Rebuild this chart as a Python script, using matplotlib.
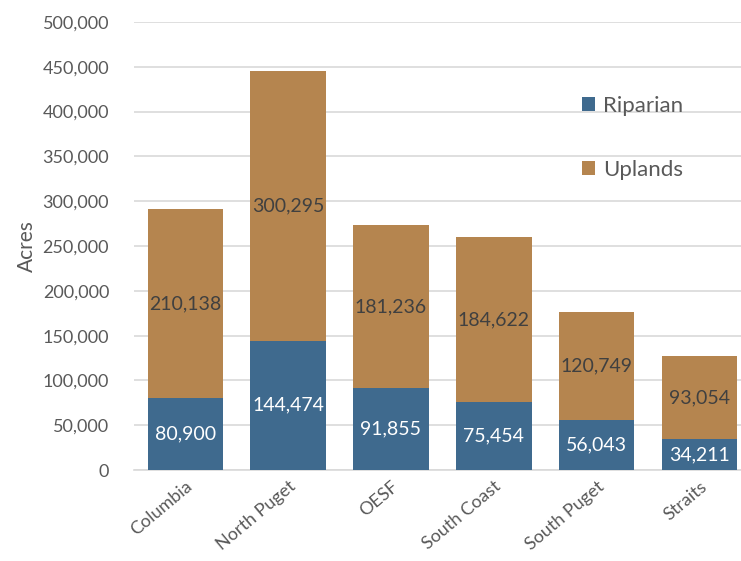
import matplotlib.pyplot as plt
import numpy as np

regions = ["Columbia", "North Puget", "OESF", "South Coast", "South Puget", "Straits"]
riparian = [80900, 144474, 91855, 75454, 56043, 34211]
uplands = [210138, 300295, 181236, 184622, 120749, 93054]

BLUE = "#3F6A8E"
BROWN = "#B5854F"

plt.rcParams["font.family"] = ["Lato", "DejaVu Sans"]

fig = plt.figure(figsize=(7.41, 5.61), dpi=100)
ax = fig.add_axes([0.181, 0.162, 0.819, 0.799])

x = np.arange(len(regions))
rip = np.array(riparian)
upl = np.array(uplands)

ax.bar(x, rip, width=0.73, color=BLUE, label="Riparian", zorder=3)
ax.bar(x, upl, width=0.73, bottom=rip, color=BROWN, label="Uplands", zorder=3)

# segment totals printed in the middle of each stack piece
for xi, r, u in zip(x, rip, upl):
    ax.text(xi, r / 2, f"{r:,}", ha="center", va="center", color="white",
            fontsize=14, zorder=4)
    ax.text(xi, r + u / 2, f"{u:,}", ha="center", va="center", color="#404040",
            fontsize=14, zorder=4)

ax.set_ylim(0, 500000)
ax.set_xlim(-0.495, 5.4)
ax.set_yticks(np.arange(0, 500001, 50000))
ax.yaxis.set_major_formatter(plt.FuncFormatter(lambda v, p: f"{int(v):,}"))
ax.grid(axis="y", color="#D9D9D9", linewidth=1.2, zorder=0)
for s in ["top", "right", "left"]:
    ax.spines[s].set_visible(False)
ax.spines["bottom"].set_color("#D9D9D9")
ax.spines["bottom"].set_linewidth(1.2)
ax.tick_params(axis="both", length=0, colors="#595959", labelsize=13)
ax.tick_params(axis="y", pad=18)
ax.set_xticks(x)
ax.set_xticklabels(regions, rotation=40, ha="right", rotation_mode="anchor")
ax.tick_params(axis="x", pad=6)
ax.set_ylabel("Acres", fontsize=15, color="#595959", labelpad=4)

ax.legend(loc="upper left", bbox_to_anchor=(0.705, 0.88), frameon=False,
          fontsize=16, labelcolor="#595959", handlelength=0.6, handleheight=0.6,
          labelspacing=2.0, handletextpad=0.35)

fig.savefig("out.png", dpi=100)
